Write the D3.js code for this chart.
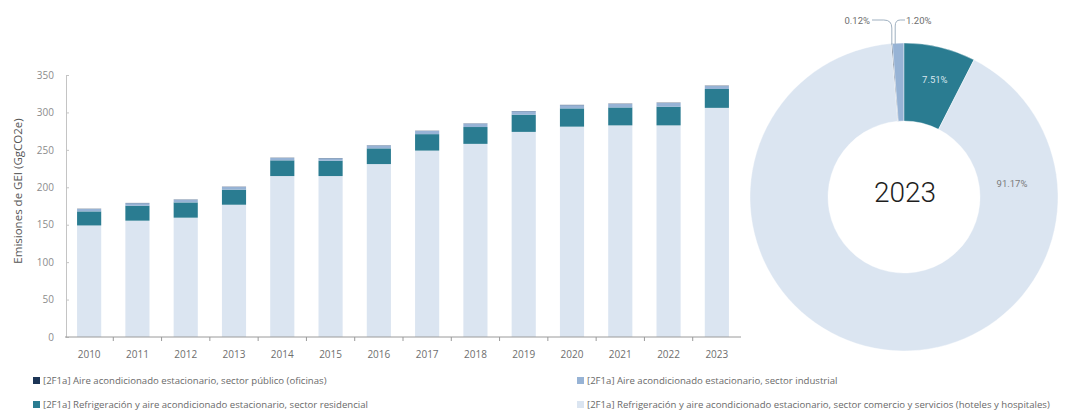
<!DOCTYPE html>
<html>
<head>
<meta charset="utf-8">
<script src="https://cdn.jsdelivr.net/npm/d3@7"></script>
<style>
  html, body { margin: 0; padding: 0; background: #ffffff; }
  svg { display: block; }
</style>
</head>
<body>
<svg id="chart" width="1091" height="411"></svg>
<script>
// Emisiones de GEI por subcategoría [2F1a], 2010–2023 (GgCO2e)
const years = ["2010","2011","2012","2013","2014","2015","2016","2017","2018","2019","2020","2021","2022","2023"];
const publico     = [0.3, 0.3, 0.3, 0.3, 0.3, 0.3, 0.3, 0.3, 0.3, 0.3, 0.4, 0.4, 0.4, 0.4];
const industrial  = [3.2, 3.4, 3.6, 3.7, 3.2, 3.3, 3.8, 4.2, 4.5, 4.6, 4.3, 4.6, 4.9, 4.0];
const residencial = [18.8, 20.0, 20.4, 20.1, 21.0, 20.5, 21.0, 22.0, 22.5, 23.0, 24.4, 24.0, 25.0, 25.2];
const comercio    = [149.0, 155.4, 159.4, 176.7, 215.0, 215.0, 231.0, 249.0, 258.0, 274.0, 281.0, 282.7, 282.7, 306.1];
const yTicks = [0, 50, 100, 150, 200, 250, 300, 350];

// Participación 2023 (%)
const shareLabels = ["0.12%", "1.20%", "7.51%", "91.17%"];
const shareValues = [0.12, 1.20, 7.51, 91.17];

const seriesNames = [
  "[2F1a] Aire acondicionado estacionario, sector público (oficinas)",
  "[2F1a] Aire acondicionado estacionario, sector industrial",
  "[2F1a] Refrigeración y aire acondicionado estacionario, sector residencial",
  "[2F1a] Refrigeración y aire acondicionado estacionario, sector comercio y servicios (hoteles y hospitales)"
];
const seriesKeys = ["publico", "industrial", "residencial", "comercio"];
const colors = {
  publico: "#1c3556",
  industrial: "#97b3d5",
  residencial: "#2a7c91",
  comercio: "#dbe5f1"
};

const svg = d3.select("#chart");
const font = "'Open Sans', 'Noto Sans', sans-serif";

// ---------- Stacked bars ----------
const rows = years.map((y, i) => ({
  year: y,
  publico: publico[i],
  industrial: industrial[i],
  residencial: residencial[i],
  comercio: comercio[i]
}));
const stackOrder = ["comercio", "residencial", "industrial", "publico"];
const stacked = d3.stack().keys(stackOrder)(rows);

const x = d3.scaleBand().domain(years).range([65, 741]).paddingInner(0.5).paddingOuter(0.25);
const y = d3.scaleLinear().domain([0, 350]).range([337, 75]);

const bars = svg.append("g");
bars.selectAll("g.series")
  .data(stacked)
  .join("g")
  .attr("fill", d => colors[d.key])
  .selectAll("rect")
  .data(d => d)
  .join("rect")
  .attr("x", d => x(d.data.year))
  .attr("width", x.bandwidth())
  .attr("y", d => y(d[1]))
  .attr("height", d => y(d[0]) - y(d[1]));

// Y axis
const yAxis = svg.append("g")
  .attr("transform", "translate(66,0)")
  .call(d3.axisLeft(y).tickValues(yTicks).tickSize(-3).tickPadding(12).tickFormat(d3.format("d")));
yAxis.select(".domain").attr("stroke", "#c4c4c4");
yAxis.selectAll(".tick line").attr("stroke", "#c4c4c4");
yAxis.selectAll(".tick text")
  .attr("fill", "#8c8c8c")
  .style("font-family", font)
  .style("font-size", "10px");

// X axis baseline and separators between years
const step = x.step();
svg.append("line")
  .attr("x1", 65).attr("x2", 741)
  .attr("y1", y(0)).attr("y2", y(0))
  .attr("stroke", "#9a9a9a").attr("stroke-width", 1);
svg.append("g").selectAll("line")
  .data(years.slice(1))
  .join("line")
  .attr("x1", d => x(d) - (step - x.bandwidth()) / 2)
  .attr("x2", d => x(d) - (step - x.bandwidth()) / 2)
  .attr("y1", y(0)).attr("y2", y(0) + 4)
  .attr("stroke", "#9a9a9a");
svg.append("g").selectAll("text")
  .data(years)
  .join("text")
  .attr("x", d => x(d) + x.bandwidth() / 2)
  .attr("y", 358)
  .attr("text-anchor", "middle")
  .attr("fill", "#6e6e6e")
  .style("font-family", font)
  .style("font-size", "10px")
  .text(d => d);

// Y axis title
svg.append("text")
  .attr("transform", "translate(22,191) rotate(-90)")
  .attr("text-anchor", "middle")
  .attr("fill", "#555555")
  .style("font-family", font)
  .style("font-size", "11.5px")
  .text("Emisiones de GEI (GgCO2e)");

// ---------- Donut 2023 ----------
const cx = 904, cy = 197, rOuter = 154, rInner = 76;
const startOffset = -(shareValues[0] + shareValues[1]) / 100 * 2 * Math.PI;
const pie = d3.pie().sort(null).value(d => d)
  .startAngle(startOffset).endAngle(startOffset + 2 * Math.PI);
const arcs = pie(shareValues);
const arc = d3.arc().innerRadius(rInner).outerRadius(rOuter);

const donut = svg.append("g").attr("transform", `translate(${cx},${cy})`);
donut.selectAll("path")
  .data(arcs)
  .join("path")
  .attr("d", arc)
  .attr("fill", (d, i) => colors[seriesKeys[i]])
  .attr("stroke", "#ffffff")
  .attr("stroke-width", 0.4);

donut.append("text")
  .attr("x", 1).attr("y", 5)
  .attr("text-anchor", "middle")
  .attr("fill", "#1e1e1e")
  .style("font-family", "Roboto, 'Noto Sans', sans-serif")
  .style("font-weight", 300)
  .style("font-size", "28px")
  .text("2023");

const labelFont = "Roboto, 'Noto Sans', sans-serif";
// inside labels for the larger slices
const resCentroid = d3.arc().innerRadius(rOuter * 0.8).outerRadius(rOuter * 0.8).centroid(arcs[2]);
donut.append("text")
  .attr("x", resCentroid[0] + 2).attr("y", resCentroid[1] + 6)
  .attr("text-anchor", "middle")
  .attr("fill", "#d8e6ee")
  .style("font-family", labelFont)
  .style("font-size", "9.5px")
  .text(shareLabels[2]);
donut.append("text")
  .attr("x", 108).attr("y", -10)
  .attr("text-anchor", "middle")
  .attr("fill", "#7a7a7a")
  .style("font-family", labelFont)
  .style("font-size", "9.5px")
  .text(shareLabels[3]);

// outside labels with leader lines for the thin slices
const pubMid = (arcs[0].startAngle + arcs[0].endAngle) / 2;
const indMid = (arcs[1].startAngle + arcs[1].endAngle) / 2;
const pubX = rOuter * Math.sin(pubMid);
const indX = rOuter * Math.sin(indMid) - 3;
const ringTop = -rOuter * Math.cos(pubMid);
const labelY = -177;

donut.append("path")
  .attr("d", `M${-32},${labelY} L${pubX - 8},${labelY} Q${pubX},${labelY} ${pubX},${labelY + 8} L${pubX},${ringTop + 1}`)
  .attr("fill", "none").attr("stroke", "#9fb0c0").attr("stroke-width", 1);
donut.append("path")
  .attr("d", `M${1},${labelY} L${indX + 5},${labelY} Q${indX},${labelY} ${indX},${labelY + 6} L${indX},${ringTop + 1}`)
  .attr("fill", "none").attr("stroke", "#9fb0c0").attr("stroke-width", 1);

donut.append("text")
  .attr("x", -34).attr("y", labelY + 3.5)
  .attr("text-anchor", "end")
  .attr("fill", "#6e6e6e")
  .style("font-family", labelFont)
  .style("font-size", "9.5px")
  .text(shareLabels[0]);
donut.append("text")
  .attr("x", 2).attr("y", labelY + 3.5)
  .attr("text-anchor", "start")
  .attr("fill", "#6e6e6e")
  .style("font-family", labelFont)
  .style("font-size", "9.5px")
  .text(shareLabels[1]);

// ---------- Legend ----------
const legendPos = [
  { x: 33, y: 377 },
  { x: 577, y: 377 },
  { x: 33, y: 401 },
  { x: 577, y: 401 }
];
const legend = svg.append("g");
const items = legend.selectAll("g")
  .data(seriesKeys)
  .join("g")
  .attr("transform", (d, i) => `translate(${legendPos[i].x},${legendPos[i].y})`);
items.append("rect")
  .attr("width", 7).attr("height", 7)
  .attr("fill", d => colors[d]);
items.append("text")
  .attr("x", 10).attr("y", 7)
  .attr("fill", "#6a6a6a")
  .style("font-family", font)
  .style("font-size", "9.6px")
  .text((d, i) => seriesNames[i]);
</script>
</body>
</html>
